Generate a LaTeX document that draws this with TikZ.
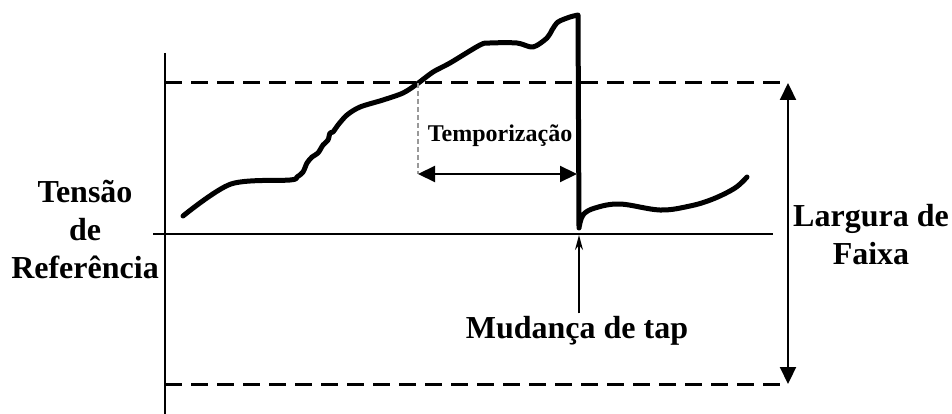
\documentclass[tikz,border=0pt]{standalone}
\usepackage{fontspec}
\setmainfont{Liberation Serif}
\usetikzlibrary{arrows.meta}

\tikzstyle{bigtext} = [font=\bfseries\fontsize{32}{38}\selectfont, align=center, inner sep=0pt]
\tikzstyle{smalltext} = [font=\bfseries\fontsize{24}{28}\selectfont, inner sep=0pt]
\tikzstyle{axis} = [line width=1.5pt]
\tikzstyle{limit} = [line width=3pt, dash pattern=on 17pt off 9pt]
\tikzstyle{voltage} = [line width=5pt, line cap=round, line join=round]
\tikzstyle{span} = [line width=2.2pt, {Triangle[length=17pt,width=16pt]}-{Triangle[length=17pt,width=16pt]}]

\begin{document}
\begin{tikzpicture}[x=1pt, y=-1pt]
\useasboundingbox (0,0) rectangle (952,414);

% axes and band limits
\coordinate (axisTop) at (165,53);
\coordinate (axisBot) at (165,414);
\coordinate (refL) at (153,234);
\coordinate (refR) at (773,234);
\coordinate (upL) at (165,83);
\coordinate (upR) at (787,83);
\coordinate (loL) at (165,384);
\coordinate (loR) at (787,384);
\draw[axis] (axisTop) -- (axisBot);
\draw[axis] (refL) -- (refR);
\draw[limit] (upL) -- (upR);
\draw[limit] (loL) -- (loR);

% voltage curve
\coordinate (tapTop) at (578,15);
\coordinate (tapBot) at (579,228);
\draw[voltage] plot[smooth, tension=0.5] coordinates {(183,216) (231,184) (290,180) (297,177) (303,172)
	(307,163) (312,157) (318,153) (323,145) (328,140) (330,133) (333,132) (338,125) (347,115)
	(360,107) (383,100) (403,93) (417,84) (433,72) (450,63) (480,45) (490,43) (517,43) (533,47)
	(547,38) (552,30) (558,22) (570,17) (tapTop)}
	-- (tapBot)
	-- plot[smooth, tension=0.6] coordinates {(tapBot) (583,215) (595,208) (620,204) (660,210)
	(690,206) (713,199) (735,188) (747,177)};

% delay
\coordinate (delayTop) at (418,83);
\coordinate (delayL) at (418,174);
\coordinate (delayR) at (577,174);
\draw[gray!80, line width=2pt, dash pattern=on 5pt off 3pt] (delayTop) -- (delayL);
\draw[span] (delayL) -- (delayR);
\node[smalltext] (delay) at (500,136) {Temporização};

% band width
\coordinate (bandTop) at (788,83);
\coordinate (bandBot) at (788,384);
\draw[span] (bandTop) -- (bandBot);
\node[bigtext] (band) at (871,235) {Largura de\\Faixa};

% reference and tap change
\node[bigtext] (ref) at (85,230) {Tensão\\de\\Referência};
\node[bigtext] (tap) at (577,331) {Mudança de tap};
\coordinate (tapMark) at (579,235);
\draw[line width=1.5pt, -{Stealth[length=15pt,width=8pt]}] (tap.north -| tapMark) ++(0,-3) -- (tapMark);
\end{tikzpicture}
\end{document}
